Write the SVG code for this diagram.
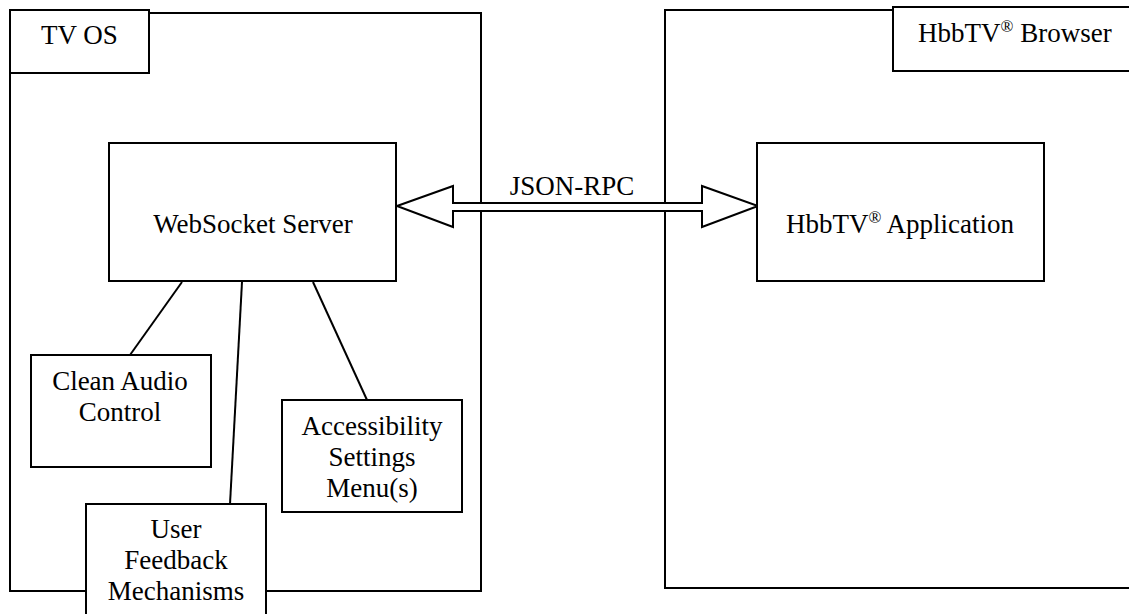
<svg xmlns="http://www.w3.org/2000/svg" width="1129" height="614" viewBox="0 0 1129 614">
<style>
.box{fill:#fff;stroke:#000;stroke-width:2}
.t{font-family:"Liberation Serif","Times New Roman",serif;font-size:27px;fill:#000;text-anchor:middle}
.tl{font-family:"Liberation Serif","Times New Roman",serif;font-size:27px;fill:#000}
.sup{font-size:17px}
.ln{stroke:#000;stroke-width:2;fill:none}
</style>
<rect x="0" y="0" width="1129" height="614" fill="#fff"/>
<g id="tvos">
<rect class="box" x="10" y="13" width="471" height="578"/>
<rect class="box" x="10" y="10" width="139" height="63"/>
<text class="tl" x="41" y="44">TV OS</text>
</g>
<g id="browser">
<rect class="box" x="665" y="10" width="470" height="578"/>
<rect class="box" x="893" y="7" width="242" height="64"/>
<text class="tl" x="918" y="42">HbbTV<tspan class="sup" dy="-10">®</tspan><tspan dy="10"> Browser</tspan></text>
</g>
<g id="connectors">
<line class="ln" x1="182" y1="282" x2="130" y2="355"/>
<line class="ln" x1="242" y1="282" x2="230" y2="504"/>
<line class="ln" x1="313" y1="282" x2="367" y2="400"/>
<polygon class="box" points="397,206 453,186 453,203 702,203 702,186 758,206 702,227 702,211 453,211 453,227"/>
<text class="t" x="572" y="195">JSON-RPC</text>
</g>
<g id="websocket">
<rect class="box" x="109" y="143" width="287" height="138"/>
<text class="t" x="253" y="233">WebSocket Server</text>
</g>
<g id="app">
<rect class="box" x="757" y="143" width="287" height="138"/>
<text class="t" x="900" y="233">HbbTV<tspan class="sup" dy="-10">®</tspan><tspan dy="10"> Application</tspan></text>
</g>
<g id="cleanaudio">
<rect class="box" x="31" y="355" width="180" height="112"/>
<text class="t" x="120" y="390">Clean Audio</text>
<text class="t" x="120" y="421">Control</text>
</g>
<g id="accessibility">
<rect class="box" x="282" y="400" width="180" height="112"/>
<text class="t" x="372" y="435">Accessibility</text>
<text class="t" x="372" y="466">Settings</text>
<text class="t" x="372" y="497">Menu(s)</text>
</g>
<g id="feedback">
<rect class="box" x="86" y="504" width="180" height="120"/>
<text class="t" x="176" y="538">User</text>
<text class="t" x="176" y="569">Feedback</text>
<text class="t" x="176" y="600">Mechanisms</text>
</g>
</svg>
